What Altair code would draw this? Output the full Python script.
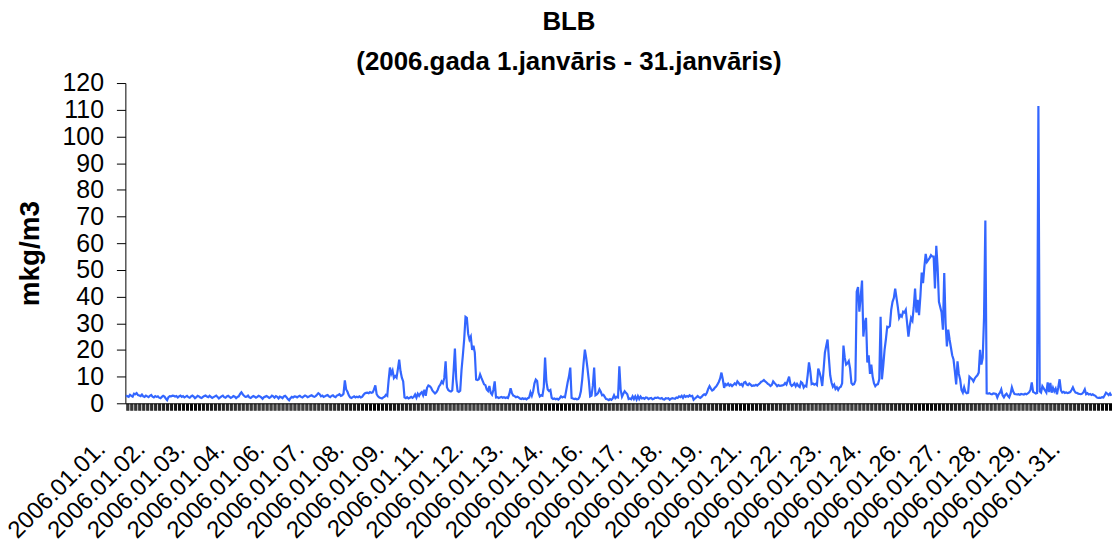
import json
import altair as alt
import pandas as pd

# Hourly concentrations (mkg/m3) for each day of January 2006
jan01 = [3.0, 2.6, 2.4, 3.2, 2.8, 2.5, 3.6, 3.4, 3.8, 3.1, 2.9, 2.7, 3.3, 2.6, 2.4, 2.9, 2.6, 2.3, 2.8, 3.1, 2.5, 2.2, 2.7, 2.4]
jan02 = [2.6, 2.1, 1.9, 2.4, 2.8, 2.5, 1.8, 1.2, 2.3, 2.7, 2.6, 2.9, 2.8, 2.5, 2.7, 2.2, 2.6, 2.9, 2.4, 2.7, 2.2, 2.5, 2.8, 2.3]
jan03 = [2.1, 2.6, 2.9, 2.5, 1.9, 2.3, 2.8, 2.6, 2.2, 2.0, 2.4, 2.7, 2.9, 2.5, 2.3, 2.8, 2.4, 2.0, 2.3, 2.6, 2.9, 2.4, 1.8, 2.2]
jan04 = [2.6, 2.9, 2.3, 2.1, 2.6, 2.8, 2.4, 2.0, 2.3, 2.7, 2.5, 1.9, 2.4, 2.6, 3.5, 4.1, 3.4, 2.8, 2.4, 2.5, 2.9, 2.2, 2.0, 2.4]
jan05 = [2.7, 2.5, 2.1, 2.4, 2.8, 2.6, 2.2, 1.7, 2.3, 2.5, 2.7, 2.4, 2.0, 2.3, 2.9, 2.6, 2.1, 2.7, 2.4, 1.8, 2.5, 2.3, 1.9, 2.6]
jan06 = [2.8, 2.3, 1.6, 1.1, 1.9, 2.4, 2.2, 2.6, 2.5, 2.2, 2.6, 2.8, 2.4, 2.2, 2.6, 2.9, 2.7, 2.3, 2.5, 2.8, 3.0, 2.6, 2.4, 2.7]
jan07 = [3.2, 3.8, 3.4, 2.6, 2.9, 2.4, 2.6, 2.9, 3.1, 2.6, 2.3, 2.8, 3.0, 2.5, 2.3, 2.9, 3.1, 3.4, 2.8, 3.0, 3.6, 8.6, 5.2, 4.3]
jan08 = [3.0, 2.2, 2.0, 2.3, 2.6, 2.2, 2.5, 2.3, 2.6, 2.2, 2.4, 3.1, 3.7, 3.9, 4.0, 3.8, 4.2, 3.9, 4.1, 5.2, 6.7, 3.4, 2.6, 2.2]
jan09 = [2.0, 1.8, 2.2, 2.5, 3.2, 2.8, 8.5, 13.4, 11.0, 12.3, 9.5, 10.2, 9.6, 12.8, 16.4, 12.0, 9.6, 8.2, 2.2, 1.9, 2.3, 1.8, 2.1, 2.4]
jan10 = [2.0, 2.4, 3.3, 2.1, 3.6, 2.8, 3.7, 4.2, 3.0, 5.1, 2.8, 5.8, 6.7, 6.4, 5.9, 4.8, 4.2, 3.7, 4.1, 5.0, 6.3, 7.0, 8.2, 7.5]
jan11 = [9.5, 15.7, 6.0, 5.0, 4.6, 4.4, 4.8, 12.0, 20.5, 9.0, 4.6, 4.3, 4.7, 12.5, 18.0, 24.0, 32.4, 32.0, 26.0, 23.9, 25.0, 20.0, 21.6, 19.0]
jan12 = [8.9, 8.7, 9.0, 10.8, 9.5, 8.3, 7.1, 6.8, 5.2, 4.6, 6.5, 3.9, 3.2, 5.0, 8.2, 2.2, 2.3, 2.0, 2.2, 2.4, 2.1, 2.3, 2.0, 2.2]
jan13 = [2.0, 3.4, 5.6, 3.8, 2.9, 2.7, 2.3, 2.5, 2.2, 1.8, 1.6, 1.9, 1.6, 1.8, 1.5, 1.9, 2.2, 4.1, 2.8, 4.5, 7.5, 8.9, 8.4, 4.0]
jan14 = [2.6, 3.0, 2.8, 6.0, 17.1, 8.0, 5.2, 4.6, 5.0, 2.0, 1.6, 1.8, 1.5, 1.7, 1.4, 1.9, 2.6, 2.2, 2.5, 2.3, 5.0, 7.8, 10.0, 13.4]
jan15 = [2.0, 1.8, 1.6, 1.7, 1.5, 1.6, 2.4, 4.5, 9.0, 15.0, 20.1, 17.0, 13.0, 8.5, 2.6, 2.9, 6.5, 13.4, 3.0, 3.3, 3.9, 5.2, 4.3, 3.0]
jan16 = [3.2, 2.4, 1.6, 1.5, 1.2, 1.6, 1.3, 1.8, 3.0, 1.9, 2.4, 2.2, 13.9, 5.0, 2.5, 3.6, 4.5, 3.9, 3.4, 1.6, 1.8, 1.5, 2.6, 1.6]
jan17 = [2.6, 1.4, 2.7, 1.6, 2.5, 1.8, 2.0, 1.7, 2.2, 2.1, 1.6, 1.9, 2.0, 1.5, 1.7, 2.1, 2.0, 2.2, 1.9, 1.8, 2.0, 1.5, 1.4, 1.9]
jan18 = [1.8, 1.9, 1.3, 1.7, 1.9, 1.8, 1.7, 2.2, 2.0, 2.6, 2.3, 2.8, 2.0, 2.9, 2.4, 2.7, 2.5, 3.0, 2.6, 2.8, 1.3, 1.8, 2.2, 2.7]
jan19 = [2.3, 2.0, 2.4, 3.0, 3.4, 3.1, 3.9, 5.4, 6.4, 5.5, 4.8, 5.1, 5.8, 6.3, 7.1, 8.0, 9.3, 11.5, 9.0, 5.8, 7.2, 6.8, 7.4, 6.6]
jan20 = [7.0, 6.4, 6.9, 7.5, 7.0, 8.2, 7.6, 6.9, 7.2, 6.5, 7.8, 8.0, 7.1, 6.8, 7.4, 7.0, 6.5, 6.7, 6.6, 6.9, 6.6, 7.1, 7.5, 8.1]
jan21 = [8.3, 8.7, 8.2, 7.8, 7.3, 7.0, 6.5, 6.9, 8.2, 7.6, 7.1, 6.4, 6.8, 6.5, 6.6, 6.7, 6.9, 7.6, 7.0, 8.5, 10.0, 7.2, 6.5, 6.9]
jan22 = [7.5, 6.4, 7.3, 6.5, 6.1, 8.0, 7.6, 5.9, 6.6, 6.3, 10.5, 15.3, 12.0, 7.2, 7.4, 7.0, 7.3, 6.8, 13.0, 11.5, 9.5, 6.5, 12.5, 19.0]
jan23 = [21.5, 23.9, 17.0, 10.5, 7.8, 6.2, 7.0, 5.4, 6.0, 5.0, 5.9, 6.2, 7.5, 21.6, 17.0, 14.5, 15.0, 15.8, 13.0, 7.6, 7.0, 7.2, 8.5, 41.8]
jan24 = [43.6, 34.3, 40.0, 46.0, 25.0, 30.0, 32.0, 15.3, 18.0, 11.0, 14.5, 10.0, 7.5, 6.4, 7.0, 7.2, 9.0, 32.4, 9.0, 14.0, 20.0, 24.0, 28.7, 28.5]
jan25 = [29.0, 35.0, 38.0, 39.5, 43.0, 39.5, 36.0, 32.0, 33.0, 32.5, 34.3, 34.0, 35.0, 30.0, 25.0, 29.0, 32.0, 31.0, 36.0, 43.0, 34.0, 38.8, 33.0, 40.0]
jan26 = [49.0, 45.0, 51.0, 56.0, 53.0, 53.7, 54.5, 55.5, 55.0, 55.0, 43.0, 59.0, 51.0, 38.0, 36.0, 34.0, 27.6, 48.8, 30.0, 21.3, 27.6, 24.0, 21.0, 18.0]
jan27 = [16.4, 12.0, 7.1, 15.7, 11.0, 8.9, 5.0, 4.0, 6.0, 4.2, 3.8, 4.0, 10.0, 9.5, 9.0, 8.2, 9.3, 10.0, 10.5, 11.5, 20.0, 14.5, 17.0, 32.0]
jan28 = [68.5, 3.7, 3.6, 3.8, 3.5, 3.4, 3.7, 3.6, 3.5, 2.2, 3.4, 4.0, 5.2, 3.0, 2.2, 3.1, 3.6, 2.8, 2.2, 3.6, 6.0, 4.4, 3.5, 3.4]
jan29 = [3.3, 3.4, 3.2, 3.5, 3.4, 3.3, 3.6, 3.4, 3.7, 4.1, 5.0, 7.8, 4.3, 4.0, 3.7, 3.9, 111.4, 4.5, 4.0, 6.4, 5.6, 4.8, 4.0, 7.8]
jan30 = [4.2, 7.6, 4.0, 5.8, 4.5, 5.5, 3.4, 6.0, 9.0, 4.8, 4.0, 4.3, 3.9, 4.1, 3.8, 4.0, 4.2, 5.0, 6.0, 4.8, 4.0, 3.9, 3.6, 3.5]
jan31 = [3.4, 3.6, 4.2, 5.2, 3.4, 3.8, 3.3, 3.5, 3.1, 3.4, 3.0, 2.8, 2.2, 2.0, 2.1, 2.0, 2.3, 2.2, 3.0, 4.0, 3.6, 3.1, 3.7, 2.8]

# Category-axis labels (one label every 30 hourly categories)
x_labels = ["2006.01.01.", "2006.01.02.", "2006.01.03.", "2006.01.04.", "2006.01.06.",
            "2006.01.07.", "2006.01.08.", "2006.01.09.", "2006.01.11.", "2006.01.12.",
            "2006.01.13.", "2006.01.14.", "2006.01.16.", "2006.01.17.", "2006.01.18.",
            "2006.01.19.", "2006.01.21.", "2006.01.22.", "2006.01.23.", "2006.01.24.",
            "2006.01.26.", "2006.01.27.", "2006.01.28.", "2006.01.29.", "2006.01.31."]
label_step = 30
y_ticks = [0, 10, 20, 30, 40, 50, 60, 70, 80, 90, 100, 110, 120]

days = [jan01, jan02, jan03, jan04, jan05, jan06, jan07, jan08, jan09, jan10,
        jan11, jan12, jan13, jan14, jan15, jan16, jan17, jan18, jan19, jan20,
        jan21, jan22, jan23, jan24, jan25, jan26, jan27, jan28, jan29, jan30, jan31]
values = [v for d in days for v in d]
hours = list(range(len(values)))
df = pd.DataFrame({"hour": hours, "value": values})

label_expr = (
    f"datum.value % {label_step} === 0 && datum.value / {label_step} < {len(x_labels)} "
    f"? {json.dumps(x_labels, ensure_ascii=False)}[datum.value / {label_step}] : ''"
)

FONT = "Liberation Sans"

chart = alt.Chart(df).mark_line(color="#3366FF", strokeWidth=2.2).encode(
    x=alt.X(
        "hour:Q",
        scale=alt.Scale(domain=[-0.5, len(values) - 0.5], nice=False, zero=False),
        axis=alt.Axis(
            values=hours, labelExpr=label_expr, labelAngle=-45, labelAlign="right",
            labelBaseline="middle", labelOffset=-25, labelPadding=35, tickSize=7,
            tickColor="black", domainColor="black", labelOverlap=False, labelFlush=False,
            labelFontSize=24, labelFont=FONT, labelColor="black", grid=False, title=None,
        ),
    ),
    y=alt.Y(
        "value:Q",
        scale=alt.Scale(domain=[0, 120], nice=False),
        axis=alt.Axis(
            values=y_ticks, tickSize=9, labelPadding=13, labelFontSize=25, labelFont=FONT,
            labelColor="black", tickColor="black", domainColor="black", grid=False,
            title="mkg/m3", titleFont=FONT, titleFontSize=28, titleFontWeight="bold",
            titleColor="black", titleX=-95, titleY=171, titleAngle=-90,
            titleAlign="center", titleBaseline="middle",
        ),
    ),
).properties(
    width=992,
    height=322,
    padding={"left": 118, "top": 74, "right": 0, "bottom": 136},
    autosize=alt.AutoSizeParams(type="none"),
    title=alt.TitleParams(
        ["BLB", "(2006.gada 1.janvāris - 31.janvāris)"],
        font=FONT, fontSize=26, fontWeight="bold", color="black",
        anchor="middle", lineHeight=40, offset=12, baseline="alphabetic", dy=37, dx=-50,
    ),
).configure_view(stroke=None)

chart.save("out.html", embed_options={"renderer": "svg", "actions": False})
